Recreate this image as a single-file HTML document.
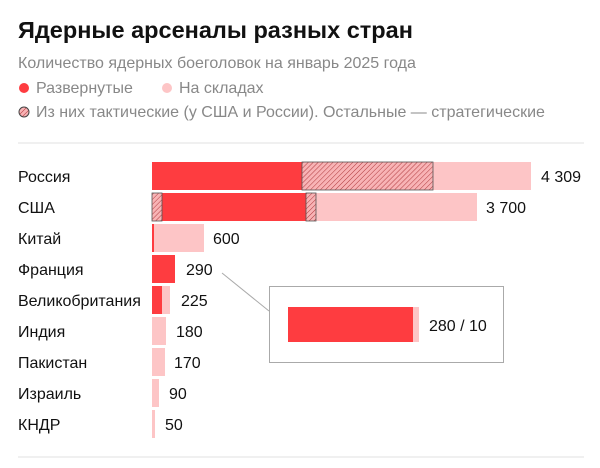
<!DOCTYPE html><html><head><meta charset="utf-8"><style>
body{margin:0;width:600px;height:463px;background:#fff;font-family:"Liberation Sans",sans-serif;overflow:hidden}
</style></head><body>
<svg width="600" height="463" xmlns="http://www.w3.org/2000/svg" font-family="Liberation Sans, sans-serif">
<defs><pattern id="h" width="3.5" height="3.5" patternUnits="userSpaceOnUse" patternTransform="rotate(45)"><rect width="4" height="4" fill="#f8b3b5"/><line x1="0" y1="0" x2="0" y2="4" stroke="#b03a3e" stroke-width="1"/></pattern></defs>
<text x="18" y="38" font-size="23.5" font-weight="bold" fill="#111">Ядерные арсеналы разных стран</text>
<text x="18" y="68" font-size="16" fill="#888">Количество ядерных боеголовок на январь 2025 года</text>
<circle cx="24" cy="88" r="5" fill="#fe3c40"/><text x="36" y="93" font-size="16" fill="#888">Развернутые</text>
<circle cx="167" cy="88" r="5" fill="#fdc5c6"/><text x="179" y="93" font-size="16" fill="#888">На складах</text>
<circle cx="24" cy="112" r="5" fill="url(#h)" stroke="#444" stroke-width="1"/><text x="36" y="117" font-size="16" fill="#888">Из них тактические (у США и России). Остальные — стратегические</text>
<line x1="18" y1="143" x2="584" y2="143" stroke="#e2e2e2"/>
<g font-size="16" fill="#111">
<text x="18" y="182">Россия</text><text x="18" y="213">США</text><text x="18" y="244">Китай</text><text x="18" y="275">Франция</text><text x="18" y="306">Великобритания</text><text x="18" y="337">Индия</text><text x="18" y="368">Пакистан</text><text x="18" y="399">Израиль</text><text x="18" y="430">КНДР</text>
<text x="541" y="182">4 309</text><text x="486" y="213">3 700</text><text x="213" y="244">600</text><text x="186" y="275">290</text><text x="181" y="306">225</text><text x="176" y="337">180</text><text x="174" y="368">170</text><text x="169" y="399">90</text><text x="165" y="430">50</text>
</g>
<rect x="152" y="162" width="379" height="28" fill="#fdc5c6"/><rect x="152" y="162" width="150" height="28" fill="#fe3c40"/><rect x="302" y="162" width="131" height="28" fill="url(#h)" stroke="#555" stroke-width="0.8"/>
<rect x="152" y="193" width="325" height="28" fill="#fdc5c6"/><rect x="152" y="193" width="154" height="28" fill="#fe3c40"/><rect x="152" y="193" width="10" height="28" fill="url(#h)" stroke="#555" stroke-width="0.8"/><rect x="306" y="193" width="10" height="28" fill="url(#h)" stroke="#555" stroke-width="0.8"/>
<rect x="152" y="224" width="52" height="28" fill="#fdc5c6"/><rect x="152" y="224" width="2" height="28" fill="#fe3c40"/>
<rect x="152" y="255" width="23" height="28" fill="#fe3c40"/>
<rect x="152" y="286" width="18" height="28" fill="#fdc5c6"/><rect x="152" y="286" width="10" height="28" fill="#fe3c40"/>
<rect x="152" y="317" width="14" height="28" fill="#fdc5c6"/>
<rect x="152" y="348" width="13" height="28" fill="#fdc5c6"/>
<rect x="152" y="379" width="7" height="28" fill="#fdc5c6"/>
<rect x="152" y="410" width="3" height="28" fill="#fdc5c6"/>
<line x1="222" y1="273" x2="269" y2="311" stroke="#aaa"/>
<rect x="269.5" y="286.5" width="234" height="76" fill="#fff" stroke="#aaa"/>
<rect x="288" y="307" width="131" height="35" fill="#fdc5c6"/><rect x="288" y="307" width="125" height="35" fill="#fe3c40"/>
<text x="429" y="331" font-size="16" fill="#111">280 / 10</text>
<line x1="18" y1="457" x2="584" y2="457" stroke="#e2e2e2"/>
</svg></body></html>
